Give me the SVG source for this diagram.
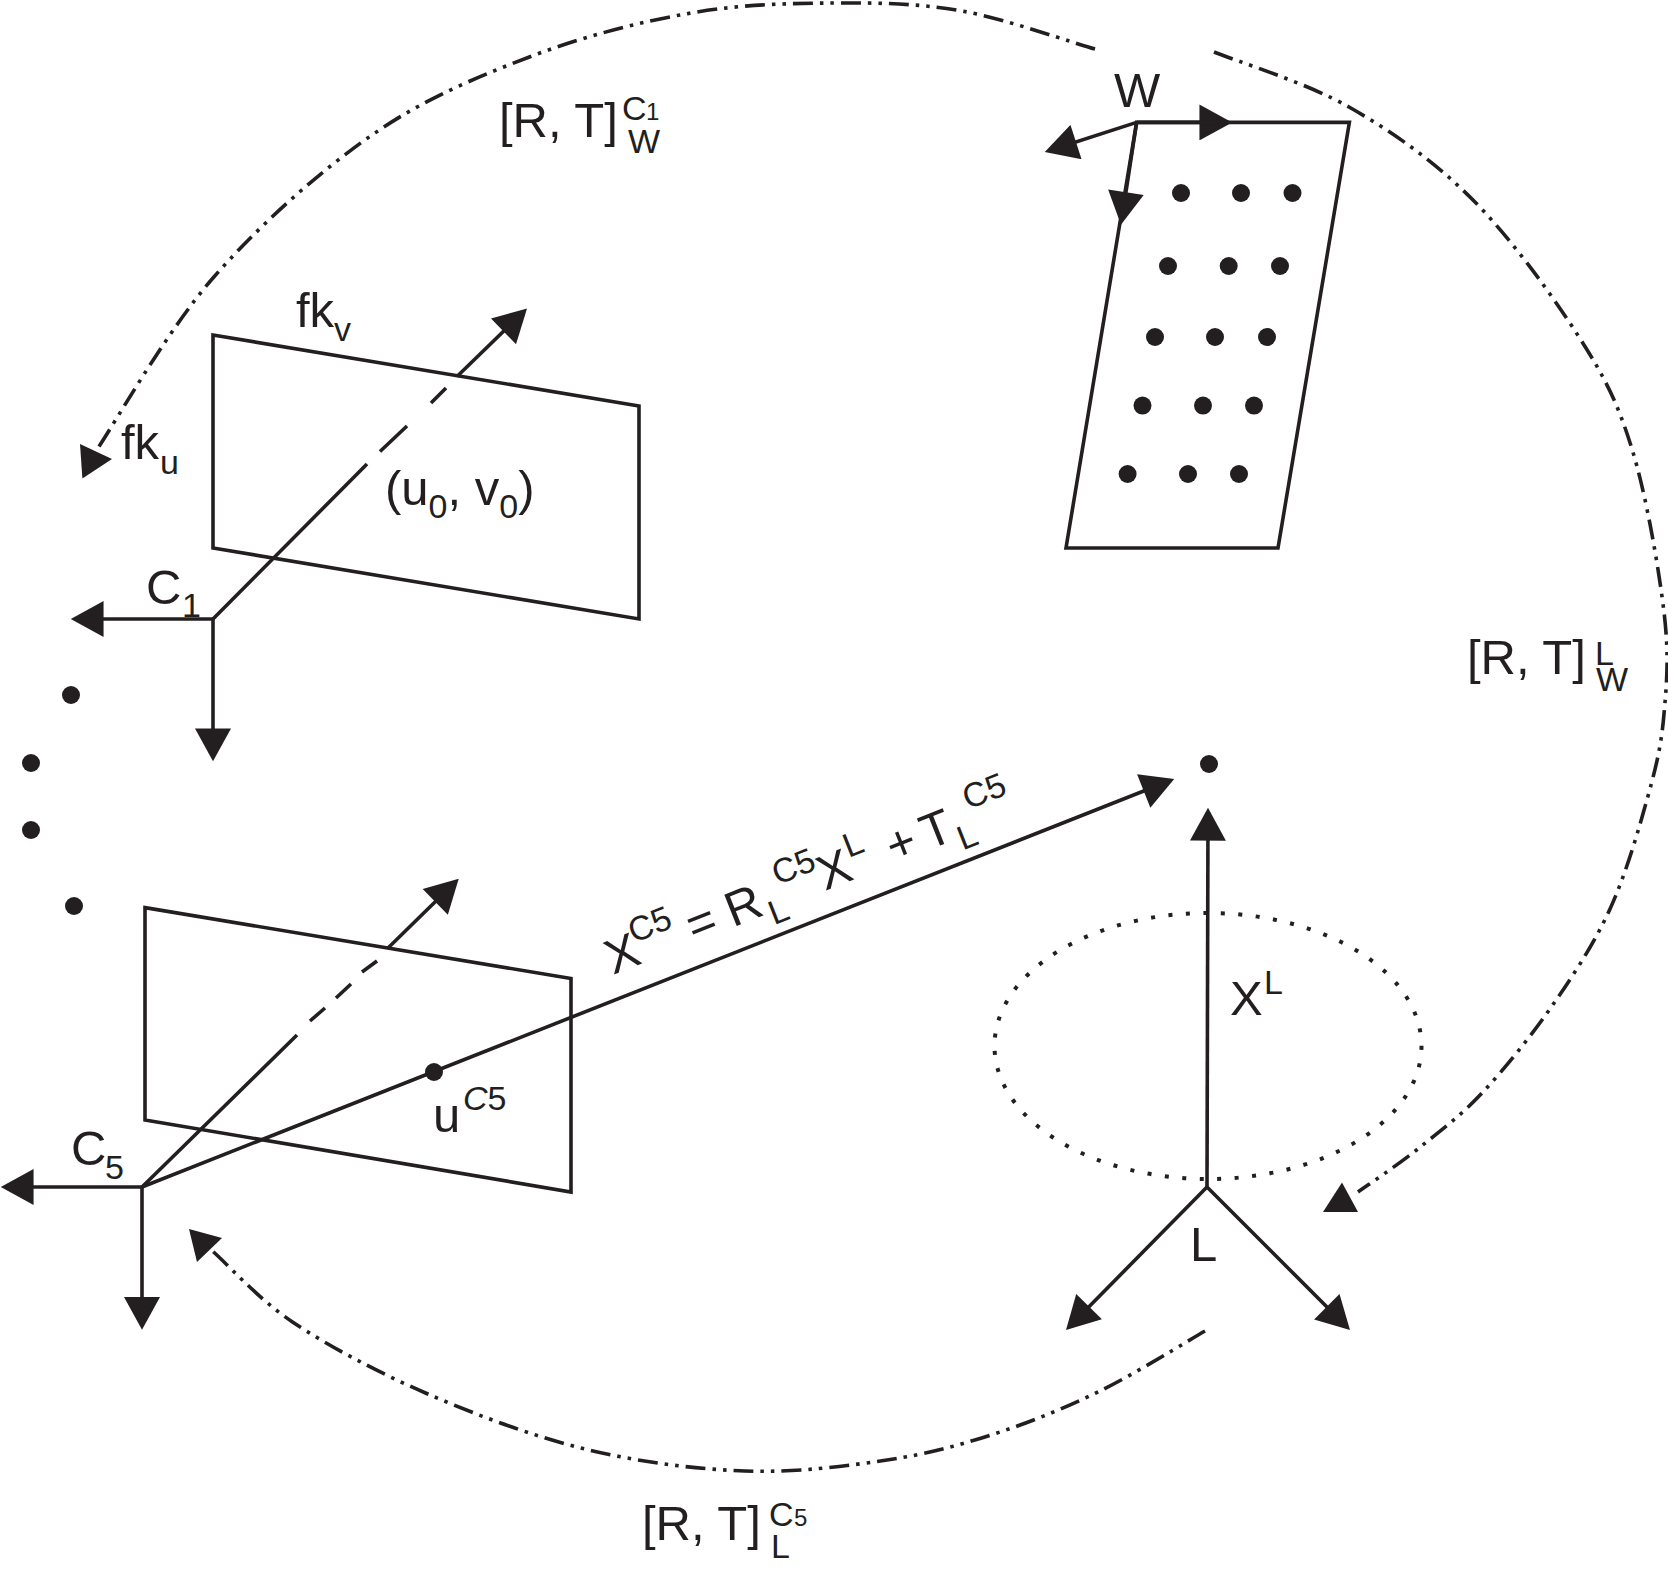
<svg xmlns="http://www.w3.org/2000/svg" width="1668" height="1576" viewBox="0 0 1668 1576">
<style>
.l{fill:none;stroke:#231f20;stroke-width:3.6}
.a{fill:none;stroke:#231f20;stroke-width:3.6;marker-end:url(#h)}
.dd{fill:none;stroke:#231f20;stroke-width:3.6;stroke-dasharray:20 7 3.5 7 3.5 7}
.dot{fill:none;stroke:#231f20;stroke-width:4;stroke-dasharray:4 13.5}
.h,.d{fill:#231f20;stroke:none}
text{font-family:"Liberation Sans",Arial,sans-serif;font-size:49px;fill:#231f20}
.s{font-size:34px}
.t{font-size:24px}
.i{font-style:italic}
</style>
<defs>
<marker id="h" markerUnits="userSpaceOnUse" markerWidth="34" markerHeight="36" viewBox="0 0 31 34" refX="27" refY="17" orient="auto"><path d="M0 0L31 17L0 34Z" fill="#231f20"/></marker>
</defs>
<rect width="1668" height="1576" fill="#fff"/>
<g id="connectors">
<path class="dd" d="M1095 49C1073 43 1005.5 18.7 962 11C918.5 3.3 879.2 2.7 834 3C788.8 3.3 741.3 4.2 691 13C640.7 21.8 585.2 35.7 532 56C478.8 76.3 425.2 98 372 135C318.8 172 259 225.3 213 278C167 330.7 115.5 422.2 96 451"/>
<polygon class="h" points="82.4,478.6 80,444 112,459"/>
<path class="dd" d="M1214 52C1236.5 61.2 1306 82.5 1349 107C1392 131.5 1433.7 160.7 1472 199C1510.3 237.3 1552.3 295.3 1579 337C1605.7 378.7 1617.8 403.2 1632 449C1646.2 494.8 1658.7 567.8 1664 612C1669.3 656.2 1666.7 683.3 1664 714C1661.3 744.7 1657 763.5 1648 796C1639 828.5 1626 874 1610 909C1594 944 1573.2 975.5 1552 1006C1530.8 1036.5 1505 1068.3 1483 1092C1461 1115.7 1439.8 1131.3 1419 1148C1398.2 1164.7 1368.2 1184.7 1358 1192"/>
<polygon class="h" points="1342,1182.6 1323,1212 1358,1212"/>
<path class="dd" d="M1205 1331C1187.5 1341 1135.2 1373.8 1100 1391C1064.8 1408.2 1029.5 1422.5 994 1434C958.5 1445.5 928.5 1453.8 887 1460C845.5 1466.2 795.3 1472.8 745 1471C694.7 1469.2 638.2 1462 585 1449C531.8 1436 474.3 1414.2 425.5 1393C376.7 1371.8 327.9 1345.7 292.5 1322C257.1 1298.3 226.3 1262.4 209 1248"/>
<polygon class="h" points="189,1229 222,1238 197,1262"/>
<path class="l" d="M213 619L367 464M380 451.5L407 426M431 403L446 388"/>
<path class="a" d="M457 376.5L524 311.5"/>
<path class="a" d="M213 619H75"/>
<path class="a" d="M213 619V757"/>
<path class="l" d="M142 1187L297 1035M310 1021L325 1008M336 998L351 984M362 972L377 961"/>
<path class="a" d="M388 948L455.7 881.8"/>
<path class="a" d="M142 1187H5"/>
<path class="a" d="M142 1187V1325.6"/>
<path class="a" d="M142 1187L1170.3 780.5"/>
<path class="a" d="M1136.6 122.4L1048.8 150.8"/>
<path class="a" d="M1136.6 122.4H1228"/>
<path class="a" d="M1136.6 122.4L1121.6 220.5"/>
<path class="a" d="M1207 1187L1208 812"/>
<path class="a" d="M1207 1187L1069 1327"/>
<path class="a" d="M1207 1187L1347 1327"/>
</g>
<g id="plane-c1">
<path class="l" d="M213 335L639 406V619L213 548Z"/>
<text x="296" y="326.5">fk</text><text class="s" x="334" y="341">v</text>
<text x="121" y="459">fk</text><text class="s" x="160" y="473.5">u</text>
<text x="385" y="505">(u<tspan class="s" dy="13">0</tspan><tspan dy="-13">, v</tspan><tspan class="s" dy="13">0</tspan><tspan dy="-13">)</tspan></text>
<text x="146" y="604">C</text><text class="s" x="182" y="617">1</text>
</g>
<g id="plane-c5">
<path class="l" d="M145 907.6L571 978.5V1192L145 1120Z"/>
<text x="71" y="1165">C</text><text class="s" x="105" y="1179">5</text>
<circle class="d" cx="434" cy="1072" r="9"/>
<text x="433" y="1131.5">u</text><text class="s" x="463" y="1110"><tspan class="i">C</tspan>5</text>
</g>
<g id="plate-w">
<path class="l" d="M1136.6 122.4H1349.4L1278 548H1066Z"/>
<text x="1114" y="107">W</text>
<g class="d">
<circle cx="1181" cy="193" r="9"/><circle cx="1241" cy="193" r="9"/><circle cx="1292.5" cy="193" r="9"/>
<circle cx="1168" cy="266" r="9"/><circle cx="1228.7" cy="266" r="9"/><circle cx="1280" cy="266" r="9"/>
<circle cx="1155" cy="337" r="9"/><circle cx="1215" cy="337" r="9"/><circle cx="1267" cy="337" r="9"/>
<circle cx="1142.5" cy="405.6" r="9"/><circle cx="1203" cy="405.6" r="9"/><circle cx="1254" cy="405.6" r="9"/>
<circle cx="1127.6" cy="474" r="9"/><circle cx="1188" cy="474" r="9"/><circle cx="1239" cy="474" r="9"/>
</g>
</g>
<g id="dots-between-cameras" class="d">
<circle cx="71" cy="695" r="9"/><circle cx="31" cy="763" r="9"/><circle cx="31" cy="830" r="9"/><circle cx="74" cy="906" r="9"/>
</g>
<g id="point-x">
<circle class="d" cx="1209" cy="764" r="9"/>
</g>
<g id="frame-l">
<ellipse class="dot" cx="1208" cy="1046" rx="213.5" ry="133"/>
<text x="1230" y="1015">X</text><text class="s" x="1264" y="994">L</text>
<text x="1190" y="1260.5">L</text>
</g>
<g id="label-rt-c1w">
<text x="499" y="136.5">[R, T]</text><text class="s" x="622" y="120">C</text><text class="t" x="646" y="120">1</text><text class="s" x="628" y="153">W</text>
</g>
<g id="label-rt-lw">
<text x="1467" y="673.5">[R, T]</text><text class="s" x="1595" y="665">L</text><text class="s" x="1596" y="691">W</text>
</g>
<g id="label-rt-c5l">
<text x="642" y="1540">[R, T]</text><text class="s" x="769" y="1526">C</text><text class="t" x="794" y="1526">5</text><text class="s" x="771" y="1558">L</text>
</g>
<g id="label-equation" transform="translate(613 975) rotate(-21.6)">
<text x="0" y="0">X</text><text class="s" x="31" y="-22">C5</text>
<text x="87" y="0">=</text><text x="129" y="0">R</text><text class="s" x="168" y="13">L</text><text class="s" x="186" y="-23">C5</text>
<text x="228" y="0">X</text><text class="s" x="262" y="-22">L</text>
<text x="302" y="0">+</text><text x="339" y="0">T</text><text class="s" x="371" y="13">L</text><text class="s" x="391" y="-23">C5</text>
</g>
</svg>
